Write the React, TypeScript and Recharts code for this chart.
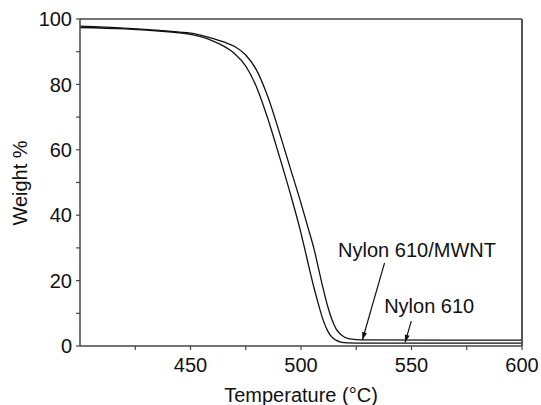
import {
  LineChart,
  Line,
  XAxis,
  YAxis,
  Label,
  ReferenceLine,
  ReferenceDot,
} from "recharts";

// Nylon 610 (left curve)
const nylonTemp = [400, 420, 440, 445, 450, 455, 460, 465, 470, 475, 480, 485, 490, 495, 500, 502, 504, 506, 508, 510, 512, 514, 516, 518, 521, 525, 600];
const nylonWeight = [97.4, 97.0, 96.1, 95.8, 95.3, 94.5, 93.3, 91.7, 89.4, 85.6, 79.0, 69.5, 58.5, 47.0, 34.5, 28.8, 23.0, 17.5, 12.5, 8.0, 4.7, 2.7, 1.7, 1.2, 0.95, 0.9, 0.9];

// Nylon 610/MWNT (right curve)
const mwntTemp = [400, 420, 440, 445, 450, 455, 460, 465, 470, 475, 480, 485, 490, 495, 500, 503, 506, 508, 510, 512, 514, 516, 518, 520, 523, 527, 600];
const mwntWeight = [97.8, 97.2, 96.3, 96.0, 95.7, 95.0, 94.1, 93.0, 91.6, 89.0, 84.2, 76.2, 65.8, 54.7, 43.7, 36.6, 29.4, 23.5, 17.6, 12.3, 8.1, 5.1, 3.5, 2.6, 2.1, 1.9, 1.8];

const xTicks = [425, 450, 475, 500, 525, 550, 575, 600];
const xLabels = [450, 500, 550, 600];
const yTicks = [0, 10, 20, 30, 40, 50, 60, 70, 80, 90, 100];
const yLabels = [0, 20, 40, 60, 80, 100];

const nylonData = nylonTemp.map((t, i) => ({ t, w: nylonWeight[i] }));
const mwntData = mwntTemp.map((t, i) => ({ t, w: mwntWeight[i] }));

const FONT = "'Liberation Sans', Arial, Helvetica, sans-serif";
const AXIS = "#444";
const tickStyle = { fontSize: 20, fill: "#111", fontFamily: FONT };

interface ArrowProps {
  x1?: number;
  y1?: number;
  x2?: number;
  y2?: number;
}

const Arrow = ({ x1 = 0, y1 = 0, x2 = 0, y2 = 0 }: ArrowProps) => {
  const ang = Math.atan2(y2 - y1, x2 - x1);
  const len = 8;
  const spread = 0.32;
  const ax = x2 - len * Math.cos(ang - spread);
  const ay = y2 - len * Math.sin(ang - spread);
  const bx = x2 - len * Math.cos(ang + spread);
  const by = y2 - len * Math.sin(ang + spread);
  return (
    <g>
      <line x1={x1} y1={y1} x2={x2} y2={y2} stroke="#111" strokeWidth={1.2} />
      <polygon points={`${x2},${y2} ${ax},${ay} ${bx},${by}`} fill="#111" />
    </g>
  );
};

const note = (text: string) => (props: { cx?: number; cy?: number }) => (
  <text
    x={props.cx}
    y={props.cy}
    textAnchor="middle"
    fontSize={20}
    fontFamily={FONT}
    fill="#111"
  >
    {text}
  </text>
);

export default function App() {
  return (
    <div style={{ position: "absolute", left: 0, top: 0, background: "#fff" }}>
      <LineChart
        width={541}
        height={405}
        margin={{ top: 18, right: 18, bottom: 0, left: 0 }}
      >
        <XAxis
          dataKey="t"
          type="number"
          domain={[400, 600]}
          ticks={xTicks}
          tickFormatter={(v) => (xLabels.includes(v) ? String(v) : "")}
          tick={tickStyle}
          tickSize={4}
          tickMargin={8}
          height={59}
          axisLine={{ stroke: AXIS, strokeWidth: 1.5 }}
          tickLine={{ stroke: AXIS, strokeWidth: 1.2 }}
          allowDataOverflow
        >
          <Label
            content={() => (
              <text x={301} y={402} textAnchor="middle" fontSize={20} fontFamily={FONT} fill="#111">
                Temperature (°C)
              </text>
            )}
          />
        </XAxis>
        <XAxis
          xAxisId="top"
          orientation="top"
          dataKey="t"
          type="number"
          domain={[400, 600]}
          ticks={xTicks}
          tick={false}
          tickSize={2}
          height={1}
          axisLine={{ stroke: AXIS, strokeWidth: 1.5 }}
          tickLine={{ stroke: "#111", strokeWidth: 1.5 }}
        />
        <YAxis
          type="number"
          domain={[0, 100]}
          ticks={yTicks}
          tickFormatter={(v) => (yLabels.includes(v) ? String(v) : "")}
          tick={tickStyle}
          tickSize={4}
          tickMargin={4}
          width={80}
          axisLine={{ stroke: AXIS, strokeWidth: 1.5 }}
          tickLine={{ stroke: AXIS, strokeWidth: 1.2 }}
        >
          <Label
            content={() => (
              <text
                x={27}
                y={183}
                transform="rotate(-90 27 183)"
                textAnchor="middle"
                fontSize={20}
                fontFamily={FONT}
                fill="#111"
              >
                Weight %
              </text>
            )}
          />
        </YAxis>
        <YAxis
          yAxisId="right"
          orientation="right"
          type="number"
          domain={[0, 100]}
          ticks={yTicks}
          tick={false}
          tickSize={2}
          width={1}
          axisLine={{ stroke: "#555", strokeWidth: 2 }}
          tickLine={{ stroke: "#111", strokeWidth: 1.5 }}
        />
        <Line
          data={nylonData}
          dataKey="w"
          type="monotone"
          stroke="#111"
          strokeWidth={1.3}
          dot={false}
          activeDot={false}
          isAnimationActive={false}
        />
        <Line
          data={mwntData}
          dataKey="w"
          type="monotone"
          stroke="#111"
          strokeWidth={1.3}
          dot={false}
          activeDot={false}
          isAnimationActive={false}
        />
        <ReferenceLine
          segment={[
            { x: 537.8, y: 25.4 },
            { x: 527.8, y: 1.9 },
          ]}
          shape={(p: ArrowProps) => <Arrow {...p} />}
        />
        <ReferenceLine
          segment={[
            { x: 549.9, y: 7.6 },
            { x: 547.1, y: 1.1 },
          ]}
          shape={(p: ArrowProps) => <Arrow {...p} />}
        />
        <ReferenceDot x={552.5} y={27.2} r={0} shape={note("Nylon 610/MWNT")} />
        <ReferenceDot x={558} y={10.1} r={0} shape={note("Nylon 610")} />
      </LineChart>
    </div>
  );
}
